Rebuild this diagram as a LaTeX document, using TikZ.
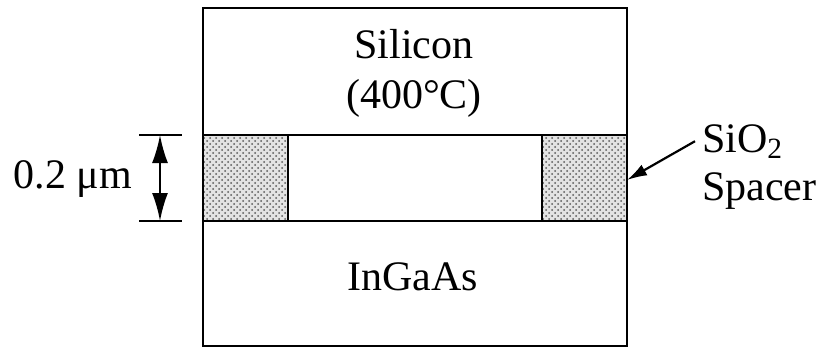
\documentclass[tikz,border=0pt]{standalone}
\usepackage{fontspec}
\setmainfont{Liberation Serif}
\usetikzlibrary{arrows.meta,patterns}
\begin{document}
\begin{tikzpicture}[x=0.5pt,y=-0.5pt,>={Latex[length=14pt,width=8pt]},font=\fontsize{21}{25}\selectfont,line join=miter]
	\def\xl{203} \def\xr{627} \def\yt{8} \def\yb{346} \def\ya{135} \def\yc{221}
	\def\xspl{288} \def\xspr{542}
	\tikzset{oxide/.style={line width=1.1pt,preaction={fill=gray!22},pattern=crosshatch dots,pattern color=gray!70!black},
		layer/.style={line width=1.1pt}}
	\useasboundingbox (0,0) rectangle (818,348);
	% spacers
	\fill[oxide] (\xl,\ya) rectangle (\xspl,\yc);
	\fill[oxide] (\xspr,\ya) rectangle (\xr,\yc);
	\draw[layer] (\xspl,\ya)--(\xspl,\yc) (\xspr,\ya)--(\xspr,\yc);
	\draw[layer] (\xl,\ya)--(\xr,\ya) (\xl,\yc)--(\xr,\yc);
	\draw[line width=1.4pt] (\xl,\yt) rectangle (\xr,\yb);
	\node[anchor=base] (silicon) at (414,58) {Silicon};
	\node[anchor=base] (temp) at (414,108) {(400°C)};
	\node[anchor=base] (ingaas) at (413,290) {InGaAs};
	% thickness
	\coordinate (dtop) at (160,\ya);
	\coordinate (dbot) at (160,\yc);
	\draw[layer] (139,\ya)--(182,\ya) (139,\yc)--(182,\yc);
	\draw[<->,line width=1pt] (dtop)--(dbot);
	\node[anchor=base east] (thick) at (139,188) {0.2 μm};
	% spacer label
	\node[anchor=base west] (sio) at (695,152) {SiO\textsubscript{2}};
	\node[anchor=base west] (spacer) at (695,200) {Spacer};
	\coordinate (tip) at (\xr,180);
	\draw[-{Latex[length=10pt,width=6pt]},line width=1.1pt] (sio.west)--(tip);
\end{tikzpicture}
\end{document}
